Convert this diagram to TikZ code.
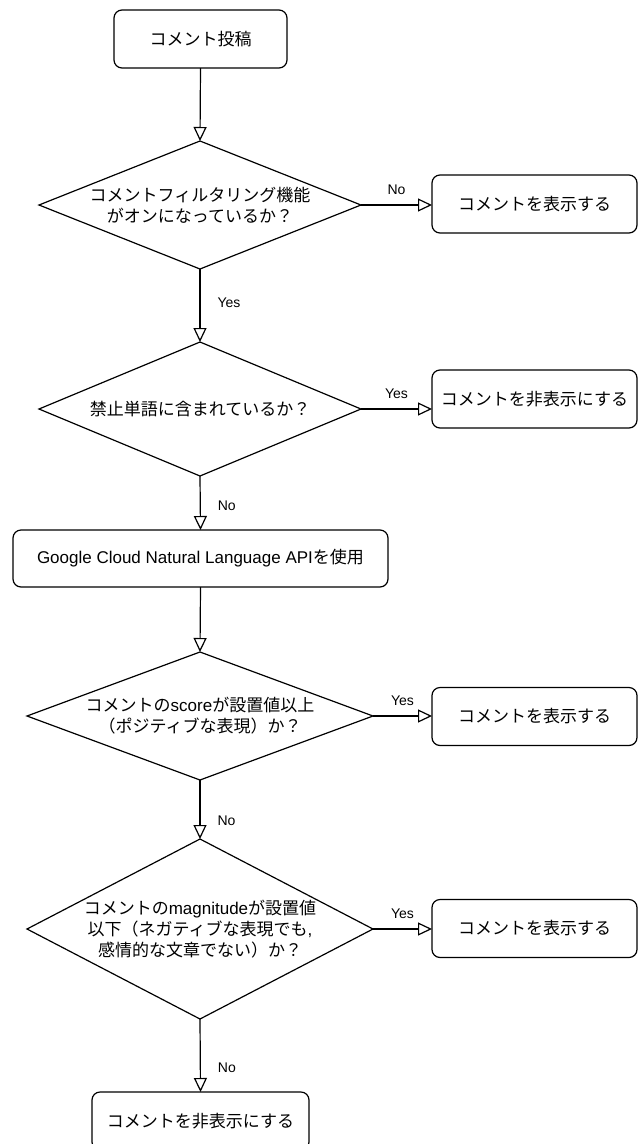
\documentclass[tikz,border=0pt]{standalone}
\usepackage{fontspec}
\setmainfont{Liberation Sans}
\newfontfamily\jp{Noto Sans CJK JP}
\usetikzlibrary{shapes.geometric,arrows.meta}
\begin{document}
\begin{tikzpicture}[x=1pt,y=-1pt,
  box/.style={draw, rounded corners=8pt, line width=1.2pt, inner sep=0pt, outer sep=0pt, font=\fontsize{17}{21}\selectfont\jp, align=center},
  dec/.style={draw, diamond, line width=1.2pt, inner sep=0pt, outer sep=0pt},
  dtext/.style={font=\fontsize{17}{21}\selectfont, align=center, inner sep=0pt},
  lbl/.style={font=\fontsize{14}{16}\selectfont, inner sep=0pt},
  flow/.style={line width=1.2pt, -{Triangle[open, length=14pt, width=13pt]}}]
\useasboundingbox (0,0) rectangle (638,1144);

\node[box, minimum width=173pt, minimum height=58pt] (start) at (200.5,39) {コメント投稿};

\node[dec, minimum width=322pt, minimum height=128pt,
  label={[dtext]center:{\jp コメントフィルタリング機能}\\{\jp がオンになっているか？}}] (d1) at (200,205) {};
\node[box, minimum width=205pt, minimum height=58pt] (r1) at (534.5,204) {コメントを表示する};

\node[dec, minimum width=322pt, minimum height=134pt,
  label={[dtext]center:{\jp 禁止単語に含まれているか？}}] (d2) at (200,409) {};
\node[box, minimum width=205pt, minimum height=58pt] (r2) at (534.5,399) {コメントを非表示にする};

\node[box, minimum width=375pt, minimum height=57pt, font=\fontsize{17}{21}\selectfont] (api) at (200.5,558.5) {Google Cloud Natural Language API{\jp を使用}};

\node[dec, minimum width=346pt, minimum height=128pt,
  label={[dtext]center:{\jp コメントの}score{\jp が設置値以上}\\{\jp （ポジティブな表現）か？}}] (d3) at (200,716) {};
\node[box, minimum width=205pt, minimum height=58pt] (r3) at (534.5,716.5) {コメントを表示する};

\node[dec, minimum width=346pt, minimum height=180pt,
  label={[dtext]center:{\jp コメントの}magnitude{\jp が設置値}\\{\jp 以下（ネガティブな表現でも},\\{\jp 感情的な文章でない）か？}}] (d4) at (200,929) {};
\node[box, minimum width=205pt, minimum height=58pt] (r4) at (534.5,928.5) {コメントを表示する};

\node[box, minimum width=217pt, minimum height=58pt] (end) at (200.5,1121) {コメントを非表示にする};

\draw[flow] (start.south) -- (d1.north);
\draw[flow] (d1.east) -- node[lbl, midway, anchor=south, yshift=10pt]{No} (d1.east -| r1.west);
\draw[flow] (d1.south) -- node[lbl, pos=0.46, anchor=west, xshift=17pt]{Yes} (d2.north);
\draw[flow] (d2.east) -- node[lbl, midway, anchor=south, yshift=10pt]{Yes} (d2.east -| r2.west);
\draw[flow] (d2.south) -- node[lbl, pos=0.55, anchor=west, xshift=17pt]{No} (api.north);
\draw[flow] (api.south) -- (d3.north);
\draw[flow] (d3.east) -- node[lbl, midway, anchor=south, yshift=10pt]{Yes} (d3.east -| r3.west);
\draw[flow] (d3.south) -- node[lbl, pos=0.69, anchor=west, xshift=17pt]{No} (d4.north);
\draw[flow] (d4.east) -- node[lbl, midway, anchor=south, yshift=10pt]{Yes} (d4.east -| r4.west);
\draw[flow] (d4.south) -- node[lbl, pos=0.67, anchor=west, xshift=17pt]{No} (end.north);
\end{tikzpicture}
\end{document}
